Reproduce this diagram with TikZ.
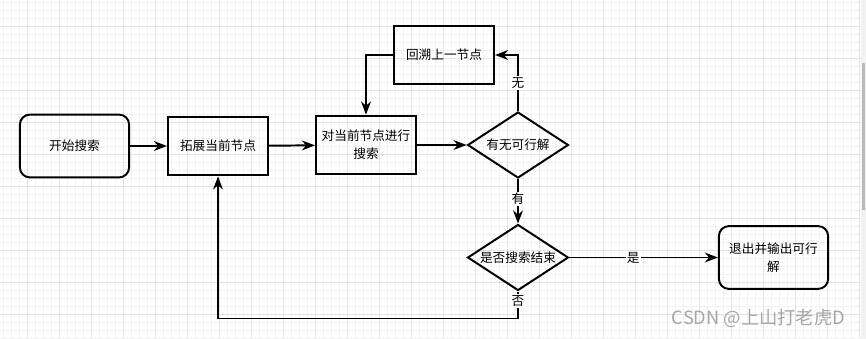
\documentclass[tikz,border=0pt]{standalone}
\usepackage{fontspec}
\setmainfont{Noto Sans CJK SC}
\usepackage{tikz}
\usetikzlibrary{arrows.meta, positioning, shapes.geometric}

\definecolor{gridminor}{HTML}{F2F2F2}
\definecolor{gridmajor}{HTML}{E3E3E3}
\definecolor{marktext}{HTML}{A6A6A6}

\begin{document}
\begin{tikzpicture}[
    x=0.025cm, y=-0.025cm,
    >=Stealth,
    every node/.style={font=\fontsize{9}{12.8}\selectfont},
    term/.style={rounded corners=0.25cm, draw, line width=1.4pt, minimum width=2.73cm,
                 minimum height=1.57cm, align=center},
    proc/.style={draw, line width=1.4pt, minimum width=2.5cm, minimum height=1.47cm, align=center},
    dec/.style={diamond, draw, line width=1.4pt, minimum width=2.52cm, minimum height=1.65cm,
                inner sep=0pt},
    lbl/.style={fill=white, inner sep=1pt},
    flow/.style={->, line width=1.4pt},
]
  % background grid
  \useasboundingbox (0,0) rectangle (866,338);
  \fill[white] (0,0) rectangle (866,338);
  \foreach \gx in {3,11,...,859} \draw[gridminor, line width=0.5pt] (\gx,0) -- (\gx,338);
  \foreach \gy in {2,10,...,338} \draw[gridminor, line width=0.5pt] (0,\gy) -- (866,\gy);
  \foreach \gx in {27,59,...,859} \draw[gridmajor, line width=0.5pt] (\gx,0) -- (\gx,338);
  \foreach \gy in {26,58,...,338} \draw[gridmajor, line width=0.5pt] (0,\gy) -- (866,\gy);
  \fill[gray!10] (861,0) rectangle (866,338);
  \fill[gray!55] (862,63) rectangle (865,210);

  \node[term] (start) at (74.5,146) {开始搜索};
  \node[proc] (expand) at (218,146) {拓展当前节点};
  \node[proc] (search) at (366,145) {对当前节点进行\\搜索};
  \node[proc] (back) at (444,55) {回溯上一节点};
  \node[dec] (feas) at (518,145) {\makebox[0pt]{有无可行解}};
  \node[dec] (over) at (518,257.5) {\makebox[0pt]{是否搜索结束}};
  \node[term] (quit) at (773.5,257.5) {退出并输出可行\\解};

  \draw[flow] (start) -- (expand);
  \draw[flow] (expand) -- (search);
  \draw[flow] (search) -- (feas);
  \draw[flow] (feas.north) |- node[lbl, pos=0.25] {无} (back.east);
  \draw[flow] (back.west) -| (search.north);
  \draw[flow] (feas.south) -- node[lbl, pos=0.45] {有} (over.north);
  \draw[flow] (over.east) -- node[lbl, pos=0.43] {是} (quit.west);
  \draw[flow] (over.south) -- node[lbl, pos=0.35] {否} ++(0,27) -| (expand.south);

  \node[anchor=east, text=marktext, font=\fontsize{13}{15}\selectfont] (mark) at (850,318) {CSDN @上山打老虎D};
\end{tikzpicture}
\end{document}
